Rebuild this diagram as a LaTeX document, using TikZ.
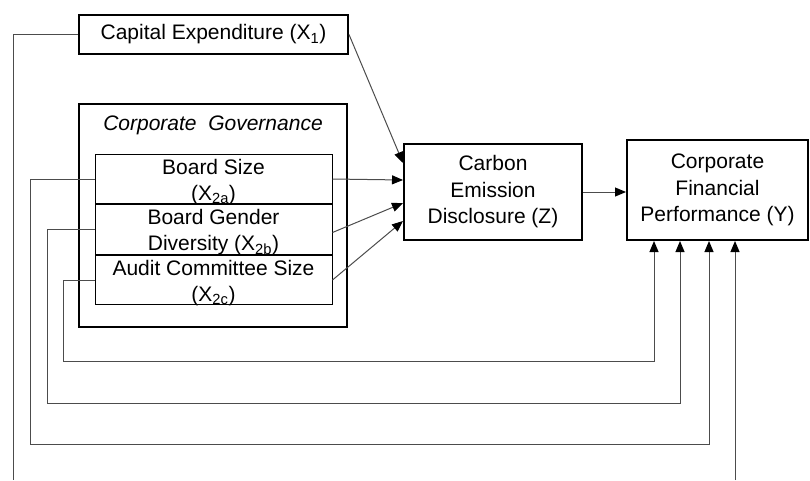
\documentclass[tikz,border=0pt]{standalone}
\usepackage{fontspec}
\setmainfont{Liberation Sans}
\usetikzlibrary{positioning, arrows.meta, calc}
\newcommand{\topgap}{\rule{0pt}{16pt}}
\tikzstyle{bx}=[%
      rectangle, draw=black, line width=2pt, fill=none,
      align=center, inner sep=0pt, font=\fontsize{21}{26.5}\selectfont
]
\tikzstyle{grp}=[%
      rectangle, draw=black, line width=2.5pt, fill=none, inner sep=0pt
]
\tikzstyle{sub}=[%
      rectangle, draw=black, line width=1pt, fill=none,
      align=center, inner sep=0pt, minimum width=237, minimum height=49.5,
      font=\fontsize{21}{26}\selectfont
]
\tikzstyle{conn}=[%
      draw=black!70, line width=1pt
]

\begin{document}
\begin{tikzpicture}[x=1pt, y=-1pt,
    -{Triangle[length=11pt,width=9pt,color=black]}
  ]
    \useasboundingbox (0,0) rectangle (810,480);

    \node[bx, minimum width=269, minimum height=39] (cap) at (213.5,34.5) {Capital Expenditure (X\textsubscript{1})};
    \node[grp, minimum width=268, minimum height=223] (cg) at (213,215.5) {};
    \node[font=\fontsize{21}{26.5}\selectfont\itshape, inner sep=0pt] (cgtitle) at (213,125) {Corporate\ \ Governance};
    \node[sub] (bs) at (213.5,179) {\topgap Board Size\\\smash{(X\textsubscript{2a})}};
    \node[sub, below=0pt of bs] (bg) {\topgap Board Gender\\\smash{Diversity (X\textsubscript{2b})}};
    \node[sub, below=0pt of bg] (ac) {\topgap Audit Committee Size\\\smash{(X\textsubscript{2c})}};
    \node[bx, minimum width=178, minimum height=96] (ced) at (493,192) {Carbon\\Emission\\Disclosure (Z)};
    \node[bx, minimum width=181, minimum height=100] (cfp) at (717.5,190) {Corporate\\Financial\\Performance (Y)};

    % turning points of the long connectors
    \coordinate (capdown) at (13,480);
    \coordinate (capup) at (735,480);
    \coordinate (bsdown) at (30,444);
    \coordinate (bsup) at (709,444);
    \coordinate (bgdown) at (47,403);
    \coordinate (bgup) at (680,403);
    \coordinate (acdown) at (63,361);
    \coordinate (acup) at (654,361);

    \draw[conn, -] (cap.west) -| (capdown);
    \draw[conn] (capup) -- (capup |- cfp.south);
    \draw[conn] (bs.west) -| (bsdown) -- (bsup) -- (bsup |- cfp.south);
    \draw[conn] (bg.west) -| (bgdown) -- (bgup) -- (bgup |- cfp.south);
    \draw[conn] (ac.west) -| (acdown) -- (acup) -- (acup |- cfp.south);

    \draw[conn] (cap.east) -- ($(ced.west)+(0,-29)$);
    \draw[conn] (bs.east) -- ($(ced.west)+(0,-12)$);
    \draw[conn] ($(bg.east)+(0,3)$) -- ($(ced.west)+(0,11)$);
    \draw[conn] (ac.east) -- ($(ced.west)+(0,29)$);
    \draw[conn] (ced.east) -- (cfp.west |- ced.east);

  \end{tikzpicture}
\end{document}
